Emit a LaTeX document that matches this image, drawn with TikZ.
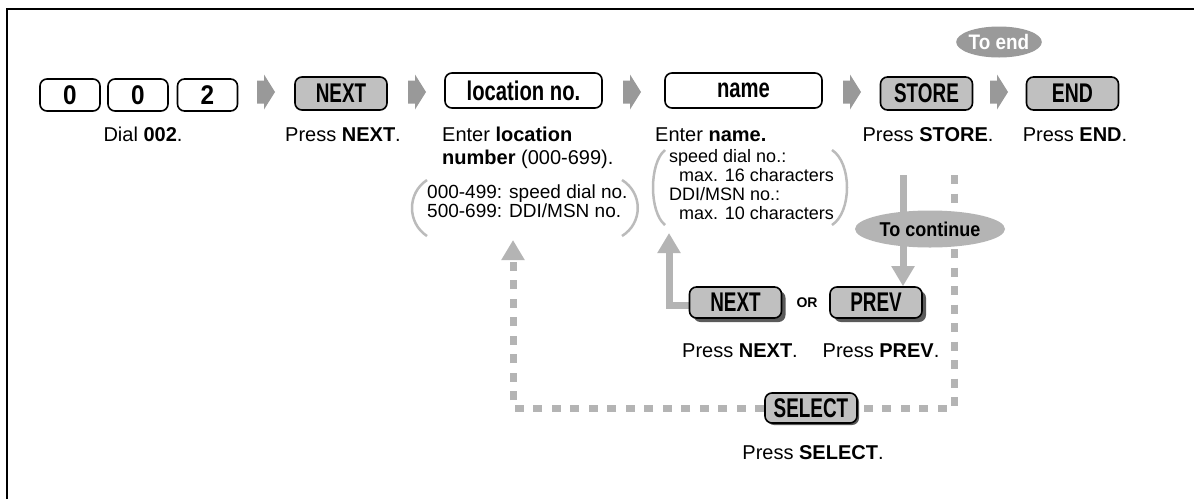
\documentclass[tikz,border=0pt]{standalone}
\usepackage{fontspec}
\setmainfont{Liberation Sans}
\usetikzlibrary{arrows.meta,shapes.geometric,shadows,backgrounds}
\pgfdeclarelayer{paper}
\pgfsetlayers{paper,background,main}
\definecolor{keygray}{HTML}{C0C0C0}
\definecolor{arrowgray}{HTML}{999999}
\definecolor{linegray}{HTML}{B4B4B4}
\definecolor{endgray}{HTML}{9A9A9A}
\definecolor{contgray}{HTML}{B4B4B4}
\definecolor{shadowgray}{HTML}{5A5A5A}
\definecolor{brackgray}{HTML}{BBBBBB}
\newcommand{\keylab}[2][0.7]{\scalebox{#1}[1]{#2}}
\begin{document}
\begin{tikzpicture}[x=1pt,y=-1pt,
  key/.style={draw=black, line width=1.6pt, rounded corners=7pt, fill=keygray,
    inner sep=0pt, minimum height=33pt, minimum width=92pt,
    font=\fontsize{27}{27}\selectfont\bfseries},
  digitkey/.style={key, fill=white, minimum width=60pt, minimum height=32pt},
  entrybox/.style={key, fill=white, minimum width=157pt, minimum height=35pt},
  shkey/.style={key, minimum height=31pt,
    drop shadow={shadow xshift=4pt, shadow yshift=-4pt, fill=shadowgray, opacity=1}},
  txt/.style={inner sep=0pt, font=\fontsize{20}{24}\selectfont},
  loctxt/.style={inner sep=0pt, font=\fontsize{19}{19}\selectfont},
  nametxt/.style={inner sep=0pt, font=\fontsize{18}{18}\selectfont},
  bracket/.style={draw=brackgray, line width=2.5pt},
  grayline/.style={draw=linegray, line width=7pt},
  dashline/.style={draw=linegray, line width=7pt, dash pattern=on 9pt off 9.5pt},
  tip/.style={-{Triangle[width=22pt,length=20pt]}},
  rowarrow/.pic={\fill[arrowgray] (0,-11.5) -- (7,-11.5) -- (7,-17.5) -- (18,0)
    -- (7,17.5) -- (7,11.5) -- (0,11.5) -- cycle;},
  oval/.style={ellipse, inner sep=0pt, font=\fontsize{21}{21}\selectfont\bfseries}
]
\useasboundingbox (0,0) rectangle (1194,499);
\begin{pgfonlayer}{paper}
\fill[white] (0,0) rectangle (1194,499);
\end{pgfonlayer}
% frame
\draw[line width=2.5pt] (7,499) -- (7,9) -- (1194,9);

% top row keys
\node[digitkey] (k0a) at (70,95) {\keylab[0.9]{0}};
\node[digitkey] (k0b) at (138,95) {\keylab[0.9]{0}};
\node[digitkey] (k2) at (207.5,95) {\keylab[0.9]{2}};
\node[key] (next) at (341,93.5) {\keylab{NEXT}};
\node[entrybox] (loc) at (523.5,90.5) {\keylab[0.75]{location no.}};
\node[entrybox] (name) at (743.5,90.5) {\keylab[0.75]{name}};
\node[key] (store) at (926.5,93.5) {\keylab{STORE}};
\node[key] (end) at (1072.5,93.5) {\keylab[0.72]{END}};

% row arrows
\pic at (257,92) {rowarrow};
\pic at (408,92) {rowarrow};
\pic at (623,92) {rowarrow};
\pic at (843,92) {rowarrow};
\pic at (990,92) {rowarrow};

% To end
\node[oval, fill=endgray, text=white, minimum width=82pt, minimum height=31pt] (toend) at (999,42) {\keylab[0.9]{To end}};

% texts
\node[txt, anchor=base] (t1) at (143,141) {Dial \textbf{002}.};
\node[txt, anchor=base] (t2) at (343,141) {Press \textbf{NEXT}.};
\node[txt, anchor=base west] (t3a) at (442,141) {Enter \textbf{location}};
\node[txt, anchor=base west] (t3b) at (442,164) {\textbf{number} (000-699).};
\node[loctxt, anchor=base west] (t3c) at (427,198) {000-499: speed dial no.};
\node[loctxt, anchor=base west] (t3d) at (427,217) {500-699: DDI/MSN no.};
\node[txt, anchor=base west] (t4a) at (655,141) {Enter \textbf{name.}};
\node[nametxt, anchor=base west] (t4b) at (669,162) {speed dial no.:};
\node[nametxt, anchor=base west] (t4c) at (679,181) {max. 16 characters};
\node[nametxt, anchor=base west] (t4d) at (669,200) {DDI/MSN no.:};
\node[nametxt, anchor=base west] (t4e) at (679,219) {max. 10 characters};
\node[txt, anchor=base] (t5) at (928,141) {Press \textbf{STORE}.};
\node[txt, anchor=base] (t6) at (1075,141) {Press \textbf{END}.};

% brackets
\draw[bracket] (427,180) .. controls (407,193) and (407,223) .. (427,236);
\draw[bracket] (622,180) .. controls (643,193) and (643,223) .. (622,236);
\draw[bracket] (665,150) .. controls (649,163) and (649,212) .. (665,225);
\draw[bracket] (832,150) .. controls (852,163) and (852,212) .. (832,225);

% lower keys
\node[shkey] (nextb) at (735.5,302.5) {\keylab{NEXT}};
\node[inner sep=0pt, font=\fontsize{14}{14}\selectfont\bfseries] (or) at (807,303) {OR};
\node[shkey] (prev) at (876,302.5) {\keylab{PREV}};
\node[key, minimum height=30pt, drop shadow={shadow xshift=2pt, shadow yshift=-2pt, fill=shadowgray, opacity=1}] (select) at (811,408) {\keylab{SELECT}};
\node[txt, anchor=base] (t7) at (740,357) {Press \textbf{NEXT}.};
\node[txt, anchor=base] (t8) at (881,357) {Press \textbf{PREV}.};
\node[txt, anchor=base] (t9) at (813,459) {Press \textbf{SELECT}.};

% connector anchors
\coordinate (contTop) at (903,175);
\coordinate (dashTop) at (954,175);
\coordinate (locArrow) at (513,240);
\coordinate (nameArrow) at (669,233);

\begin{pgfonlayer}{background}
\draw[grayline, tip] (contTop) -- (contTop |- prev.north);
\draw[dashline] (dashTop) |- (select.east);
\draw[dashline, tip] (select.west) -| (locArrow);
\draw[grayline, tip] ([yshift=-2.5pt]nextb.west) -| (nameArrow);
\end{pgfonlayer}

\node[oval, fill=contgray, text=black, minimum width=150pt, minimum height=37pt] (tocont) at (930,229) {\fontsize{20}{20}\selectfont\keylab[0.9]{To continue}};
\end{tikzpicture}
\end{document}
